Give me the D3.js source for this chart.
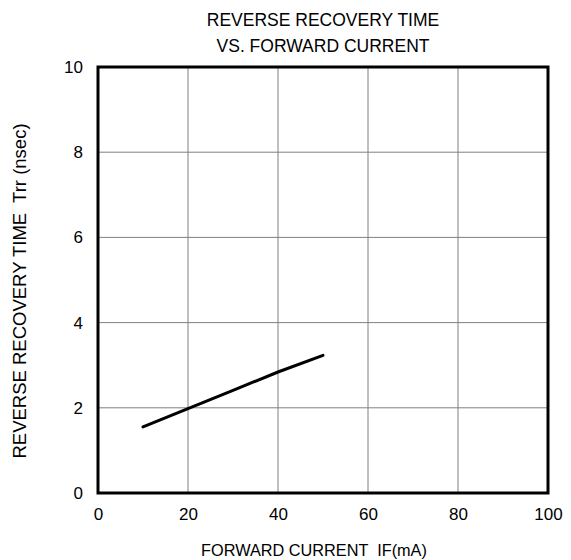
<!DOCTYPE html>
<html>
<head>
<meta charset="utf-8">
<script src="https://cdn.jsdelivr.net/npm/d3@7"></script>
<style>
  body { margin: 0; background: #fff; }
  text { font-family: "Liberation Sans", Arial, sans-serif; fill: #000; }
</style>
</head>
<body>
<div id="chart"></div>
<script>
var svgWidth = 571;
var svgHeight = 560;

var margin = { top: 67, right: 23, bottom: 67, left: 98 };
var width = svgWidth - margin.left - margin.right;
var height = svgHeight - margin.top - margin.bottom;

// curve
var current = [10, 20, 30, 40, 50];
var trr = [1.55, 1.98, 2.41, 2.84, 3.23];

var xTicks = [0, 20, 40, 60, 80, 100];
var yTicks = [0, 2, 4, 6, 8, 10];

var svg = d3.select("#chart")
    .append("svg")
    .attr("width", svgWidth)
    .attr("height", svgHeight);

var chartGroup = svg.append("g")
    .attr("transform", `translate(${margin.left},${margin.top})`);

var xScale = d3.scaleLinear().domain([0, 100]).range([0, width]);
var yScale = d3.scaleLinear().domain([0, 10]).range([height, 0]);

// grid
chartGroup.append("g")
    .selectAll("line")
    .data(xTicks.slice(1, -1))
    .enter()
    .append("line")
    .attr("x1", d => xScale(d)).attr("x2", d => xScale(d))
    .attr("y1", 0).attr("y2", height)
    .attr("stroke", "#808080").attr("stroke-width", 1);

chartGroup.append("g")
    .selectAll("line")
    .data(yTicks.slice(1, -1))
    .enter()
    .append("line")
    .attr("y1", d => yScale(d)).attr("y2", d => yScale(d))
    .attr("x1", 0).attr("x2", width)
    .attr("stroke", "#808080").attr("stroke-width", 1);

// axes (labels only, frame drawn separately)
var bottomAxis = d3.axisBottom(xScale).tickValues(xTicks).tickSize(0).tickPadding(15);
var leftAxis = d3.axisLeft(yScale).tickValues(yTicks).tickSize(0).tickPadding(15);

var xg = chartGroup.append("g")
    .attr("transform", `translate(0,${height})`)
    .call(bottomAxis);
var yg = chartGroup.append("g").call(leftAxis);

[xg, yg].forEach(g => {
    g.select(".domain").remove();
    g.selectAll("text")
        .attr("font-size", 17)
        .attr("font-family", "Liberation Sans, Arial, sans-serif")
        .attr("fill", "#000");
});

// frame
chartGroup.append("rect")
    .attr("x", 0).attr("y", 0)
    .attr("width", width).attr("height", height)
    .attr("fill", "none")
    .attr("stroke", "#000")
    .attr("stroke-width", 3);

// curve
var line = d3.line()
    .x((d, i) => xScale(current[i]))
    .y(d => yScale(d));

chartGroup.append("path")
    .datum(trr)
    .attr("d", line)
    .attr("fill", "none")
    .attr("stroke", "#000")
    .attr("stroke-width", 3)
    .attr("stroke-linecap", "round");

// titles
svg.append("text")
    .attr("x", margin.left + width / 2).attr("y", 26)
    .attr("text-anchor", "middle").attr("font-size", 17.5)
    .text("REVERSE RECOVERY TIME");
svg.append("text")
    .attr("x", margin.left + width / 2).attr("y", 52)
    .attr("text-anchor", "middle").attr("font-size", 17.5)
    .text("VS. FORWARD CURRENT");

svg.append("text")
    .attr("x", 314).attr("y", 556)
    .attr("text-anchor", "middle").attr("font-size", 16.3)
    .attr("xml:space", "preserve")
    .text("FORWARD CURRENT  IF(mA)");

svg.append("text")
    .attr("transform", "translate(26, 291) rotate(-90)")
    .attr("text-anchor", "middle").attr("font-size", 18.5)
    .attr("xml:space", "preserve")
    .text("REVERSE RECOVERY TIME  Trr (nsec)");
</script>
</body>
</html>
